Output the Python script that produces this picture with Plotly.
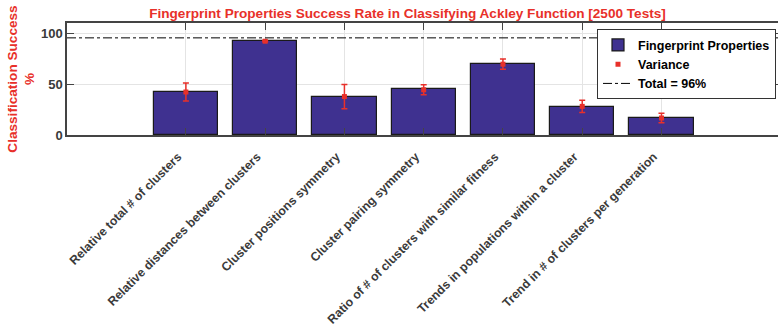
import plotly.graph_objects as go

# Fingerprint properties and their classification results
categories = [
    "Relative total # of clusters",
    "Relative distances between clusters",
    "Cluster positions symmetry",
    "Cluster pairing symmetry",
    "Ratio of # of clusters with similar fitness",
    "Trends in populations within a cluster",
    "Trend in # of clusters per generation",
]
success = [43, 93, 38, 45, 70, 28, 17]
variance_mean = [42.5, 92.7, 38, 44.7, 70, 28.3, 16.8]
variance_err = [9, 0.6, 12, 5, 5, 6, 4.6]
total_success = 96

# bars sit at slots 2..8, slot 1 is left empty
positions = list(range(2, 2 + len(categories)))
x_range = [0.5, 9.47]

RED = "#e8302a"
BAR = "#3f3190"
TXT = "#3a3a3a"
FONT = "Liberation Sans"

fig = go.Figure()

fig.add_trace(go.Bar(
    x=positions, y=success, name="Fingerprint Properties",
    width=0.81, marker=dict(color=BAR, line=dict(color="#1a1a1a", width=1.2)),
))

fig.add_trace(go.Scatter(
    x=positions, y=variance_mean, name="Variance", mode="markers",
    marker=dict(color=RED, size=5, symbol="square"),
    error_y=dict(type="data", array=variance_err, color=RED, thickness=1.5, width=3),
))

fig.add_trace(go.Scatter(
    x=x_range, y=[total_success, total_success],
    name="Total = %d%%" % total_success, mode="lines",
    line=dict(color="black", width=1, dash="dashdot"),
))

axis_common = dict(
    showline=True, linecolor="#444444", linewidth=1.5, mirror="allticks",
    ticks="inside", ticklen=7, tickcolor="#444444", tickwidth=1.3,
    showgrid=True, gridcolor="#e4e4e4", gridwidth=1, zeroline=False,
    automargin=False,
)

plot_top, plot_h = 22.7, 335 - 22.7 - 200

fig.update_layout(
    width=778, height=335,
    margin=dict(l=66.5, r=0, t=plot_top, b=200, autoexpand=False),
    paper_bgcolor="white", plot_bgcolor="white",
    font=dict(family=FONT, color=TXT, size=12),
    title=dict(
        text="Fingerprint Properties Success Rate in Classifying Ackley Function [2500 Tests]",
        x=407.5 / 778, xanchor="center", y=1 - 13 / 335, yanchor="middle",
        font=dict(family=FONT, size=13.6, color=RED, weight="bold"),
    ),
    showlegend=True,
    legend=dict(
        x=1 - 2 / 711.5, xanchor="right", y=1 - (29 - plot_top) / plot_h, yanchor="top",
        bgcolor="white", bordercolor="#333333", borderwidth=1,
        font=dict(family=FONT, size=12.5, color="black", weight="bold"),
        tracegroupgap=0, itemwidth=30,
    ),
    bargap=0,
)

fig.update_xaxes(
    **axis_common,
    range=x_range, tickvals=positions, ticktext=categories,
    tickangle=-45, ticklabelshift=-8, ticklabelstandoff=8,
    tickfont=dict(family=FONT, size=12.3, color=TXT, weight="bold"),
)
fig.update_yaxes(
    **axis_common,
    range=[0, 110.7], tickvals=[0, 50, 100],
    tickfont=dict(family=FONT, size=13, color=TXT, weight="bold"),
    title=dict(
        text="Classification Success<br>%", standoff=3,
        font=dict(family=FONT, size=13.6, color=RED, weight="bold"),
    ),
)

fig.write_html("out.html")
